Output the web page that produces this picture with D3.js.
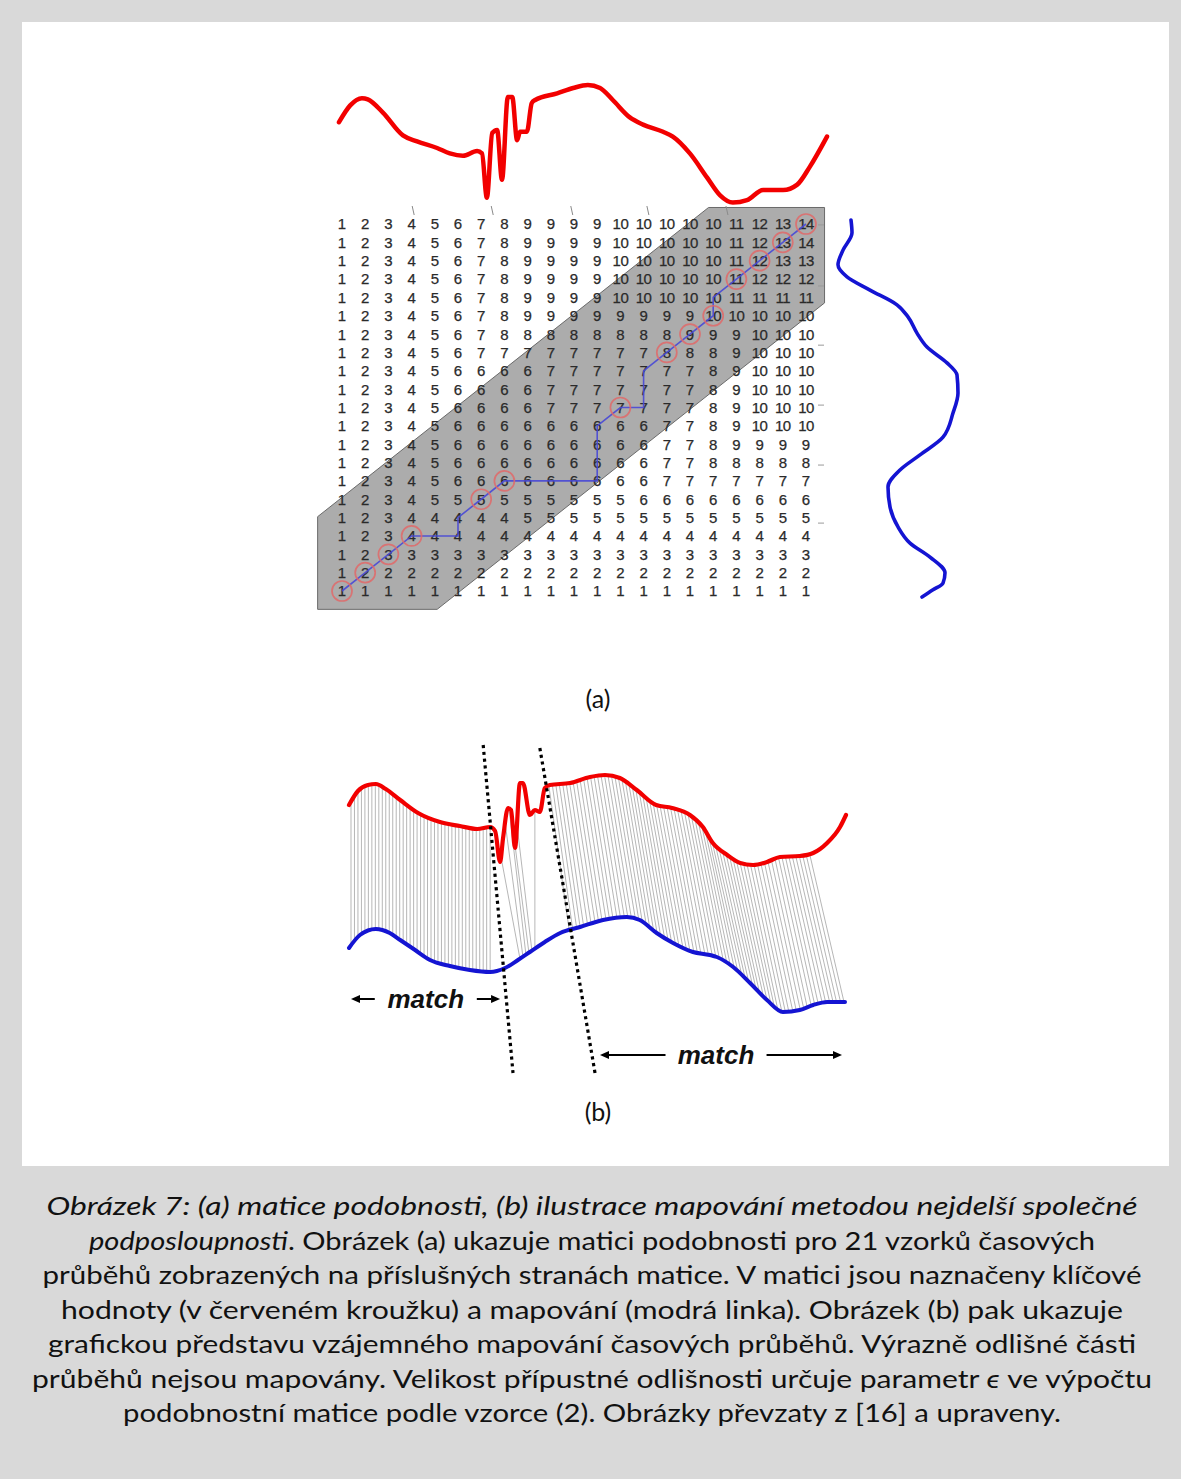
<!DOCTYPE html>
<html>
<head>
<meta charset="utf-8">
<script src="https://cdn.jsdelivr.net/npm/d3@7"></script>
<style>
  html, body { margin: 0; padding: 0; background: #d9d9d9; }
  svg { display: block; }
</style>
</head>
<body>
<svg id="fig" width="1181" height="1479"></svg>
<script>
// ---------- (a) similarity matrix: LCSS values, top row first ----------
const lcssRows = [
  [1,2,3,4,5,6,7,8,9,9,9,9,10,10,10,10,10,11,12,13,14],
  [1,2,3,4,5,6,7,8,9,9,9,9,10,10,10,10,10,11,12,13,14],
  [1,2,3,4,5,6,7,8,9,9,9,9,10,10,10,10,10,11,12,13,13],
  [1,2,3,4,5,6,7,8,9,9,9,9,10,10,10,10,10,11,12,12,12],
  [1,2,3,4,5,6,7,8,9,9,9,9,10,10,10,10,10,11,11,11,11],
  [1,2,3,4,5,6,7,8,9,9,9,9,9,9,9,9,10,10,10,10,10],
  [1,2,3,4,5,6,7,8,8,8,8,8,8,8,8,9,9,9,10,10,10],
  [1,2,3,4,5,6,7,7,7,7,7,7,7,7,8,8,8,9,10,10,10],
  [1,2,3,4,5,6,6,6,6,7,7,7,7,7,7,7,8,9,10,10,10],
  [1,2,3,4,5,6,6,6,6,7,7,7,7,7,7,7,8,9,10,10,10],
  [1,2,3,4,5,6,6,6,6,7,7,7,7,7,7,7,8,9,10,10,10],
  [1,2,3,4,5,6,6,6,6,6,6,6,6,6,7,7,8,9,10,10,10],
  [1,2,3,4,5,6,6,6,6,6,6,6,6,6,7,7,8,9,9,9,9],
  [1,2,3,4,5,6,6,6,6,6,6,6,6,6,7,7,8,8,8,8,8],
  [1,2,3,4,5,6,6,6,6,6,6,6,6,6,7,7,7,7,7,7,7],
  [1,2,3,4,5,5,5,5,5,5,5,5,5,6,6,6,6,6,6,6,6],
  [1,2,3,4,4,4,4,4,5,5,5,5,5,5,5,5,5,5,5,5,5],
  [1,2,3,4,4,4,4,4,4,4,4,4,4,4,4,4,4,4,4,4,4],
  [1,2,3,3,3,3,3,3,3,3,3,3,3,3,3,3,3,3,3,3,3],
  [1,2,2,2,2,2,2,2,2,2,2,2,2,2,2,2,2,2,2,2,2],
  [1,1,1,1,1,1,1,1,1,1,1,1,1,1,1,1,1,1,1,1,1]
];
// mapping path through the matrix, [row, column] (row 1 = top)
const mappingPath = [[21,1],[20,2],[19,3],[18,4],[18,5],[18,6],[17,6],[16,7],[15,8],[15,9],[15,10],
  [15,11],[15,12],[14,12],[13,12],[12,12],[11,13],[11,14],[10,14],[9,14],[8,15],[7,16],[6,17],[5,17],
  [4,18],[3,19],[2,20],[1,21]];
// key values (red circles)
const keyCells = [[21,1],[20,2],[19,3],[18,4],[16,7],[15,8],[11,13],[8,15],[7,16],[6,17],[4,18],[3,19],[2,20],[1,21]];
// warping window (half width, in cells) and its extent in cell units
const bandHalfWidth = 5.1;
const bandCols = [-0.05, 21.8];
const bandRowsExt = [0.1, 22.0];

// series drawn above the matrix: [time, amplitude]
const seriesTopA = [[0,6.9],[2.3,8.3],[4.7,8.9],[5.9,8.8],[9.0,7.7],[13.1,5.8],[16.0,5.3],[20.1,4.75],
  [22.7,4.3],[25.4,4.1],[28.3,4.5],[29.3,4.3],[30.3,0.6],[31.4,6.0],[32.4,6.25],[33.4,2.1],[34.6,9.0],
  [35.5,9.0],[36.5,5.4],[37.1,6.1],[38.5,6.1],[39.5,8.5],[40.2,8.75],[44.7,9.3],[48.0,9.75],[51.0,10.0],
  [53.5,9.75],[56.1,8.75],[59.6,7.3],[62.3,6.7],[66.4,6.1],[68.4,5.7],[71.9,4.3],[75.4,2.3],[78.1,0.8],
  [80.7,0.2],[83.6,0.4],[86.9,1.25],[91.0,1.25],[93.9,1.7],[96.5,3.2],[100,5.7]];
// series drawn right of the matrix: [time, amplitude]
const seriesSideA = [[0,1.28],[3.4,1.36],[8.0,0.64],[11.9,0.24],[15.1,0.96],[18.6,2.8],[22.5,4.96],
  [25.7,5.84],[30.0,6.56],[33.7,7.36],[37.9,8.96],[41.1,9.76],[45.9,9.84],[51.2,9.44],[57.6,8.64],
  [62.3,6.8],[66.3,5.2],[70.8,4.24],[76.1,4.4],[81.4,5.04],[85.7,6.0],[89.4,7.6],[93.6,8.8],[96.3,8.64],
  [98.1,7.84],[100,6.96]];
const topAxisTicks = [15.2, 31.4, 47.7, 63.3, 79.5];
const sideAxisTicks = [1.3, 17.5, 33.2, 49.1, 65.0, 80.4];

// ---------- (b) mapping of the two series ----------
const seriesRedB = [[0,21.0],[1.8,22.4],[3.8,23.0],[5.4,23.1],[7.4,22.6],[10.3,21.5],[13.9,20.2],
  [18.3,19.3],[22.3,18.9],[25.8,18.6],[28.4,18.8],[29.4,18.4],[30.4,15.3],[31.0,17.7],[32.0,20.7],
  [32.6,20.5],[33.4,16.7],[34.4,23.2],[35.0,23.2],[36.4,20.0],[37.4,20.5],[38.4,20.3],[39.4,22.7],
  [40.4,23.0],[44.5,23.2],[48.5,23.8],[51.5,24.0],[54.5,23.7],[57.9,22.5],[61.8,21.0],[65.0,20.7],
  [68.6,20.0],[71.2,18.8],[73.2,17.2],[76.1,16.0],[78.7,15.2],[81.3,15.0],[84.1,15.3],[86.7,15.8],
  [90.7,15.9],[93.4,16.2],[96.2,17.2],[98.8,18.8],[100,20.0]];
const seriesBlueB = [[0,6.7],[2.2,8.0],[5.4,8.6],[8.2,8.2],[10.3,7.5],[13.3,6.5],[16.3,5.5],[20.3,4.9],
  [24.3,4.5],[28.4,4.3],[31.4,4.7],[34.0,5.5],[36.4,6.3],[39.4,7.3],[42.5,8.2],[46.5,8.8],[51.1,9.5],
  [55.9,9.8],[58.5,9.5],[61.9,8.2],[65.2,7.2],[69.2,6.3],[72.6,6.0],[74.0,5.8],[77.3,4.8],[80.7,3.2],
  [84.1,1.5],[87.3,0.3],[90.7,0.5],[93.4,1.0],[96.2,1.3],[99.8,1.3]];
// matched samples (time on red series, time on blue series)
const matchLeft = [0.4,1.1,1.8,2.5,3.2,3.9,4.6,5.3,6.0,6.7,7.4,8.1,8.8,9.5,10.2,10.9,11.6,12.3,13.0,
  13.7,14.4,15.1,15.8,16.5,17.2,17.9,18.6,19.3,20.0,20.7,21.4,22.1,22.8,23.5,24.2,24.9,25.6,26.3,27.0,27.7,28.4];
const matchMidRed  = [30.6, 31.4, 32.2, 33.0, 33.8, 37.4];
const matchMidBlue = [34.4, 35.0, 35.6, 36.2, 36.8, 37.4];
const matchRightRed = [40.2,40.9,41.6,42.3,43.0,43.7,44.4,45.1,45.8,46.5,47.2,47.9,48.6,49.3,50.0,50.7,
  51.4,52.1,52.8,53.5,54.2,54.9,55.6,56.3,57.0,57.7,58.4,59.1,59.8,60.5,61.2,61.9,62.6,63.3,64.0,64.7,
  65.4,66.1,66.8,67.5,68.2,68.9,69.6,70.3,71.0,71.7,72.4,73.1,73.8,74.5,75.2,75.9,76.6,77.3,78.0,78.7,
  79.4,80.1,80.8,81.5,82.2,82.9,83.6,84.3,85.0,85.7,86.4,87.1,87.8,88.5,89.2,89.9,90.6,91.3,92.0,92.7];
const matchRightBlue = [44.3,45.0,45.8,46.5,47.2,48.0,48.7,49.5,50.2,50.9,51.7,52.4,53.1,53.9,54.6,55.4,
  56.1,56.8,57.6,58.3,59.0,59.8,60.5,61.3,62.0,62.7,63.5,64.2,64.9,65.7,66.4,67.2,67.9,68.6,69.4,70.1,
  70.8,71.6,72.3,73.1,73.8,74.5,75.3,76.0,76.7,77.5,78.2,79.0,79.7,80.4,81.2,81.9,82.6,83.4,84.1,84.9,
  85.6,86.3,87.1,87.8,88.5,89.3,90.0,90.8,91.5,92.2,93.0,93.7,94.4,95.2,95.9,96.7,97.4,98.1,98.9,99.6];
// boundaries of the unmatched part: [time, amplitude] at both ends
const boundaryLines = [[[27.0,27.0],[33.0,-5.8]], [[38.4,26.7],[49.5,-5.8]]];
// "match" annotations: [from time, to time, amplitude, text start time]
const matchLabels = [
  {from: 0.4, to: 30.4, amp: 1.6, textFrom: 7.6, textTo: 23.3},
  {from: 50.5, to: 99.2, amp: -4.0, textFrom: 66.1, textTo: 81.6}
];

const captionLines = [
  [{t: "Obrázek 7: (a) matice podobnosti, (b) ilustrace mapování metodou nejdelší společné", i: true}],
  [{t: "podposloupnosti", i: true}, {t: ". Obrázek (a) ukazuje matici podobnosti pro 21 vzorků časových"}],
  [{t: "průběhů zobrazených na příslušných stranách matice. V matici jsou naznačeny klíčové"}],
  [{t: "hodnoty (v červeném kroužku) a mapování (modrá linka). Obrázek (b) pak ukazuje"}],
  [{t: "grafickou představu vzájemného mapování časových průběhů. Výrazně odlišné části"}],
  [{t: "průběhů nejsou mapovány. Velikost přípustné odlišnosti určuje parametr "}, {t: "ϵ", i: true}, {t: " ve výpočtu"}],
  [{t: "podobnostní matice podle vzorce (2). Obrázky převzaty z [16] a upraveny."}]
];
const captionWidths = [1091, 1006, 1099, 1062, 1088, 1120, 938];

// ---------------------------------------------------------------------
const svg = d3.select("#fig");
svg.append("rect").attr("width", 1181).attr("height", 1479).attr("fill", "#d9d9d9");
svg.append("rect").attr("x", 22).attr("y", 22).attr("width", 1147).attr("height", 1144).attr("fill", "#ffffff");

// scales
const colX = d3.scaleLinear([1, 21], [342, 806]);
const rowY = d3.scaleLinear([1, 21], [224, 591]);
const topT = d3.scaleLinear([0, 100], [339, 827]);
const topA = d3.scaleLinear([0, 10], [205, 85]);
const sideT = d3.scaleLinear([0, 100], [220, 597]);
const sideA = d3.scaleLinear([0, 10], [835, 960]);
const bT = d3.scaleLinear([0, 100], [349, 846]);
const bA = d3.scaleLinear([0, 24.5], [1015, 770]);

// ---------- panel (a) ----------
const gA = svg.append("g");

// warping window polygon
{
  const [c0, c1] = bandCols, [r0, r1] = bandRowsExt;
  const lo = 22 - bandHalfWidth, hi = 22 + bandHalfWidth;   // col + row limits
  const poly = [[c0, r1], [c0, lo - c0], [lo - r0, r0], [c1, r0], [c1, hi - c1], [hi - r1, r1]];
  gA.append("path")
    .attr("d", d3.line().x(d => colX(d[0])).y(d => rowY(d[1]))(poly) + "Z")
    .attr("fill", "#acacac").attr("stroke", "#6a6a6a").attr("stroke-width", 1);
}

// axis remnants
gA.selectAll("line.tt").data(topAxisTicks).join("line")
  .attr("x1", d => topT(d) - 1).attr("x2", d => topT(d) + 1)
  .attr("y1", 206).attr("y2", 215)
  .attr("stroke", "#8a8a8a").attr("stroke-width", 1);
gA.selectAll("line.st").data(sideAxisTicks).join("line")
  .attr("x1", 818).attr("x2", 824)
  .attr("y1", d => sideT(d)).attr("y2", d => sideT(d))
  .attr("stroke", "#9a9a9a").attr("stroke-width", 1);

// values
const cells = [];
lcssRows.forEach((r, i) => r.forEach((v, j) => cells.push({row: i + 1, col: j + 1, v})));
gA.append("g")
  .attr("font-family", "'Liberation Sans', Arial, sans-serif")
  .attr("font-size", 15).attr("fill", "#2a2a2a").attr("text-anchor", "middle")
  .attr("stroke", "#2a2a2a").attr("stroke-width", 0.25)
  .selectAll("text").data(cells).join("text")
  .attr("x", d => colX(d.col)).attr("y", d => rowY(d.row)).attr("dy", "0.36em")
  .attr("letter-spacing", d => d.v >= 10 ? "-0.5" : null)
  .text(d => d.v);

// mapping path and key values
gA.append("path")
  .attr("d", d3.line().x(d => colX(d[1])).y(d => rowY(d[0]))(mappingPath))
  .attr("fill", "none").attr("stroke", "#4848d6").attr("stroke-width", 1.6).attr("stroke-opacity", 0.9);
gA.selectAll("circle.key").data(keyCells).join("circle")
  .attr("cx", d => colX(d[1])).attr("cy", d => rowY(d[0])).attr("r", 10)
  .attr("fill", "none").attr("stroke", "#e06868").attr("stroke-width", 1.7).attr("stroke-opacity", 0.85);

// the two series on the matrix sides
gA.append("path")
  .attr("d", d3.line().x(d => topT(d[0])).y(d => topA(d[1])).curve(d3.curveMonotoneX)(seriesTopA))
  .attr("fill", "none").attr("stroke", "#f20000").attr("stroke-width", 4.5)
  .attr("stroke-linejoin", "round").attr("stroke-linecap", "round");
gA.append("path")
  .attr("d", d3.line().x(d => sideA(d[1])).y(d => sideT(d[0])).curve(d3.curveMonotoneY)(seriesSideA))
  .attr("fill", "none").attr("stroke", "#1414d2").attr("stroke-width", 3.6)
  .attr("stroke-linejoin", "round").attr("stroke-linecap", "round");

const labelFont = "Lato, 'Open Sans', sans-serif";
svg.append("text").attr("x", 598).attr("y", 708).attr("text-anchor", "middle")
  .attr("font-family", labelFont).attr("font-size", 25).attr("fill", "#111").text("(a)");
svg.append("text").attr("x", 598).attr("y", 1121).attr("text-anchor", "middle")
  .attr("font-family", labelFont).attr("font-size", 25).attr("fill", "#111").text("(b)");

// ---------- panel (b) ----------
const gB = svg.append("g");
const lineB = d3.line().x(d => bT(d[0])).y(d => bA(d[1])).curve(d3.curveMonotoneX);

// build the curves first (unstroked) to find points on them
const redPath = gB.append("path").attr("d", lineB(seriesRedB)).attr("fill", "none");
const bluePath = gB.append("path").attr("d", lineB(seriesBlueB)).attr("fill", "none");
function yAtX(node, x) {
  let lo = 0, hi = node.getTotalLength();
  for (let k = 0; k < 40; k++) {
    const mid = (lo + hi) / 2;
    if (node.getPointAtLength(mid).x < x) lo = mid; else hi = mid;
  }
  return node.getPointAtLength((lo + hi) / 2).y;
}
const pairs = [];
matchLeft.forEach(t => pairs.push([t, t]));
matchMidRed.forEach((t, i) => pairs.push([t, matchMidBlue[i]]));
matchRightRed.forEach((t, i) => pairs.push([t, matchRightBlue[i]]));
const gLinks = gB.insert("g", ":first-child");
gLinks.selectAll("line").data(pairs).join("line")
  .attr("x1", d => bT(d[0])).attr("y1", d => yAtX(redPath.node(), bT(d[0])))
  .attr("x2", d => bT(d[1])).attr("y2", d => yAtX(bluePath.node(), bT(d[1])))
  .attr("stroke", "#a3a3a3").attr("stroke-width", 0.8);

redPath.attr("stroke", "#f20000").attr("stroke-width", 4.2)
  .attr("stroke-linejoin", "round").attr("stroke-linecap", "round");
bluePath.attr("stroke", "#1414d2").attr("stroke-width", 4)
  .attr("stroke-linejoin", "round").attr("stroke-linecap", "round");

// boundaries of the unmatched section
gB.selectAll("line.bd").data(boundaryLines).join("line")
  .attr("x1", d => bT(d[0][0])).attr("y1", d => bA(d[0][1]))
  .attr("x2", d => bT(d[1][0])).attr("y2", d => bA(d[1][1]))
  .attr("stroke", "#000").attr("stroke-width", 3.2).attr("stroke-dasharray", "3.2 3.6");

// "match" annotations
function arrow(g, x1, x2, y) {
  const dir = Math.sign(x2 - x1), head = 9;
  g.append("line").attr("x1", x1).attr("x2", x2 - dir * head).attr("y1", y).attr("y2", y)
    .attr("stroke", "#000").attr("stroke-width", 2);
  g.append("path").attr("d", `M${x2},${y} L${x2 - dir * head},${y - 4} L${x2 - dir * head},${y + 4} Z`)
    .attr("fill", "#000");
}
matchLabels.forEach(m => {
  const y = bA(m.amp);
  arrow(gB, bT(m.textFrom) - 12, bT(m.from), y);
  arrow(gB, bT(m.textTo) + 12, bT(m.to), y);
  gB.append("text").attr("x", (bT(m.textFrom) + bT(m.textTo)) / 2).attr("y", y + 9)
    .attr("text-anchor", "middle")
    .attr("font-family", "'Liberation Sans', Arial, sans-serif")
    .attr("font-weight", "bold").attr("font-style", "italic").attr("font-size", 26)
    .attr("fill", "#111").text("match");
});

// ---------- caption ----------
const cap = svg.append("g").attr("font-family", labelFont).attr("font-size", 25).attr("fill", "#111");
captionLines.forEach((segs, i) => {
  const t = cap.append("text").attr("x", 592).attr("y", 1215 + i * 34.5).attr("text-anchor", "middle")
    .attr("textLength", captionWidths[i]).attr("lengthAdjust", "spacingAndGlyphs");
  segs.forEach(s => t.append("tspan").attr("font-style", s.i ? "italic" : null).text(s.t));
});
</script>
</body>
</html>
